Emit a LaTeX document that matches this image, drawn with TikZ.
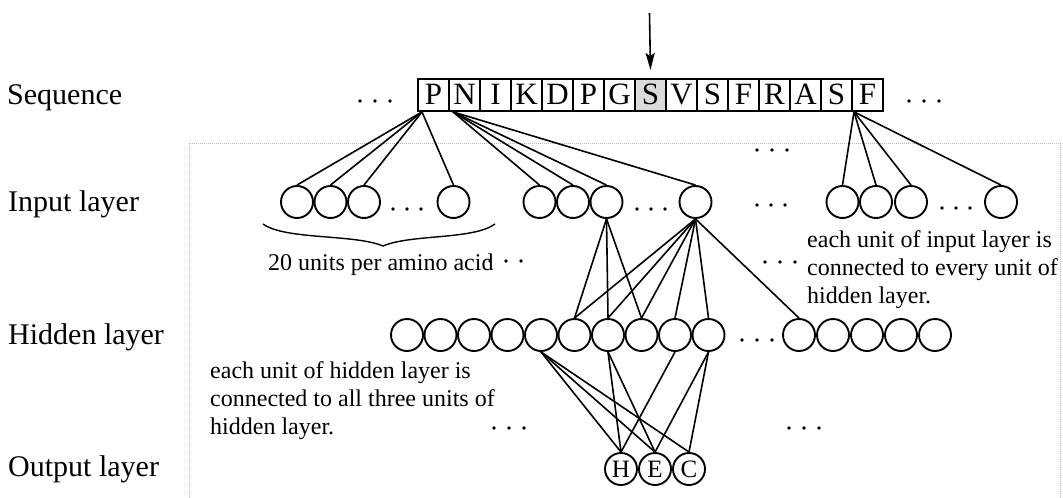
\documentclass[tikz,border=0pt]{standalone}
\usepackage{fontspec}
\setmainfont{Liberation Serif}
\usetikzlibrary{arrows.meta,calc}
\begin{document}
\begin{tikzpicture}[x=1pt,y=-1pt,
  lab/.style={font=\fontsize{30}{36}\selectfont, anchor=base west, inner sep=0},
  note/.style={font=\fontsize{24}{28}\selectfont, anchor=base west, inner sep=0},
  seqbox/.style={draw, line width=1.9pt, minimum width=31pt, minimum height=32pt, inner sep=0,
    anchor=north west, font=\fontsize{31}{36}\selectfont, text height=20pt, text depth=0pt},
  plainbox/.style={},
  shadebox/.style={fill=gray!28},
  unit/.style={circle, draw, line width=1.9pt, minimum size=32pt, inner sep=0},
  outunit/.style={unit, font=\fontsize{25}{28}\selectfont},
  link/.style={line width=1.6pt},
  frame/.style={gray!55, line width=1pt, densely dotted},
  pointer/.style={line width=1.6pt, -{Stealth[length=17pt,width=9pt,inset=3pt]}},
]
\useasboundingbox (0,0) rectangle (1063,498);

% frame
\draw[frame] (189,498) -- (189,143) -- (1060,143) -- (1060,498);

% sequence
\foreach \l/\s [count=\i] in {P/plainbox,N/plainbox,I/plainbox,K/plainbox,D/plainbox,P/plainbox,G/plainbox,S/shadebox,V/plainbox,S/plainbox,F/plainbox,R/plainbox,A/plainbox,S/plainbox,F/plainbox}
  \node[seqbox,\s] (b\i) at ({417+31*(\i-1)},78) {\l};

\coordinate (arrtop) at (649.5,13);
\draw[pointer] (arrtop) -- ([yshift=8pt]b8.north);

% input layer
\foreach \x [count=\i] in {297,330.5,364,453.5} \node[unit] (ia\i) at (\x,202) {};
\foreach \x [count=\i] in {539.5,573,606.5,695.5} \node[unit] (ib\i) at (\x,202) {};
\foreach \x [count=\i] in {842.5,876,911,1001} \node[unit] (ic\i) at (\x,202) {};

% hidden layer
\foreach \i in {1,...,10} \node[unit] (h\i) at ({407+33.5*(\i-1)},335) {};
\foreach \i in {1,...,5} \node[unit] (hr\i) at ({799+34*(\i-1)},335) {};

% output layer
\node[outunit] (oH) at (621,469) {H};
\node[outunit] (oE) at (655,469) {E};
\node[outunit] (oC) at (689,469) {C};

% sequence -> input
\foreach \t in {ia1,ia2,ia3,ia4} \draw[link] ([xshift=5pt]b1.south west) -- (\t.north);
\foreach \t in {ib1,ib2,ib3,ib4} \draw[link] ([xshift=5pt]b2.south west) -- (\t.north);
\foreach \t in {ic1,ic2,ic3,ic4} \draw[link] ([xshift=3pt]b15.south west) -- (\t.north);

% input -> hidden
\foreach \t in {h6,h7,h8} \draw[link] (ib3.south) -- (\t.north);
\foreach \t in {h6,h7,h8,h9,h10,hr1} \draw[link] (ib4.south) -- (\t.north);

% hidden -> output
\foreach \t in {oH,oE,oC} \draw[link] (h5.south) -- (\t.north);
\foreach \t in {oH,oE} \draw[link] (h7.south) -- (\t.north);
\draw[link] (h9.south) -- (oH.north);
\foreach \t in {oE,oC} \draw[link] (h10.south) -- (\t.north);

% dots
\foreach \x/\y in {360/101,375/101,390/101, 909/101,924/101,939/101,
  757/150,772/150,787/150,
  393/209,407/209,421/209, 637/209,651/209,665/209, 757/205,771/205,785/205, 942/208,956/208,970/208,
  490/261,506/261,521/261, 765/262,780/262,795/262,
  742/340,757/340,772/340,
  494/428,509/428,524/428, 789/428,804/428,819/428}
  \fill (\x,\y) circle (1.9);

% brace
\draw[line width=1.4pt] (263,224) .. controls (285,240) and (355,234) .. (383,246)
  .. controls (411,234) and (473,240) .. (495,224);

% labels
\node[lab] (lseq) at (7,104) {Sequence};
\node[lab] (lin) at (8,211) {Input layer};
\node[lab] (lhid) at (8,344) {Hidden layer};
\node[lab] (lout) at (8,476) {Output layer};

% notes
\node[note] (n20) at (268,270) {20 units per amino acid};
\node[note] (nr1) at (807,247) {each unit of input layer is};
\node[note] (nr2) at (807,275) {connected to every unit of};
\node[note] (nr3) at (807,303) {hidden layer.};
\node[note] (nl1) at (210,378) {each unit of hidden layer is};
\node[note] (nl2) at (210,406) {connected to all three units of};
\node[note] (nl3) at (210,434) {hidden layer.};
\end{tikzpicture}
\end{document}
